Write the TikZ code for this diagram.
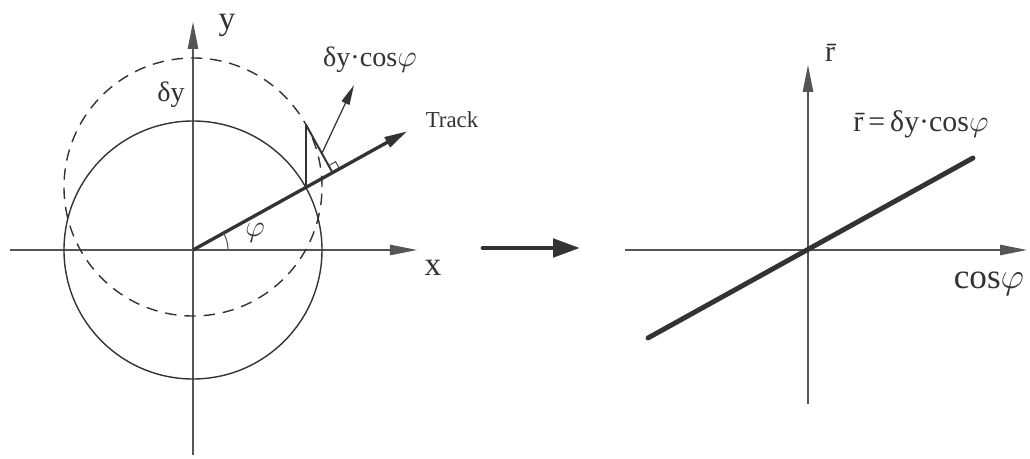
\documentclass[tikz,border=0pt]{standalone}
\usepackage{fontspec}
\setmainfont{Liberation Serif}
\usetikzlibrary{arrows.meta, calc}

\begin{document}
\begin{tikzpicture}[
  axis/.style={draw=axisgray, line width=0.6pt, -{Triangle[length=5.4mm, width=2.1mm]}},
  circ/.style={draw=inkgray, line width=0.8pt},
  track/.style={draw=inkgray, line width=1.9pt, -{Triangle[length=4.6mm, width=2.2mm]}},
  pointer/.style={draw=inkgray, line width=0.7pt, -{Triangle[length=4mm, width=1.7mm]}},
  label/.style={text=inkgray, inner sep=1pt},
]
\definecolor{inkgray}{RGB}{51,51,51}
\definecolor{axisgray}{RGB}{85,85,85}
\useasboundingbox (-3.86,-4.18) rectangle (16.74,5.0);

% ---- LEFT: axes ----
\coordinate (O) at (0,0);
\coordinate (xstart) at (-3.66,0);
\coordinate (xend) at (4.48,0);
\coordinate (ystart) at (0,-4.1);
\coordinate (yend) at (0,4.56);
\draw[axis] (xstart) -- (xend);
\draw[axis] (ystart) -- (yend);
\node[label, font=\fontsize{19}{21}\selectfont] (xlab) at (4.8,-0.36) {x};
\node[label, font=\fontsize{19}{21}\selectfont] (ylab) at (0.68,4.5) {y};

% Circle before and after the shift
\draw[circ] (O) circle (2.58);
\draw[circ, dash pattern=on 6.5pt off 4.5pt] (0,1.26) circle (2.58);
\node[label, font=\fontsize{16}{18}\selectfont] (dylab) at (-0.44,3.1) {δy};

% Track and its angle
\coordinate (tracktip) at (29:4.9);
\draw[track] (O) -- (tracktip);
\draw[draw=axisgray, line width=0.6pt] (0.7,0) arc (0:29:0.7);
\node[label, font=\fontsize{16}{18}\selectfont] (philab) at (1.24,0.34) {$\varphi$};
\node[label, font=\fontsize{13}{15}\selectfont] (tracklab) at (5.18,2.6) {Track};

% Shift and its projection on the track
\coordinate (P) at (29:2.58);
\coordinate (Q) at ($(P)+(0,1.26)$);
\coordinate (F) at ($(P)+(29:0.611)$);
\draw[inkgray, line width=1.5pt] (P) -- (Q);
\draw[inkgray, line width=1.1pt] (Q) -- (F);
\draw[inkgray, line width=0.5pt] ($(F)+(29:0.16)$) -- ($(F)+(29:0.16)+(119:0.16)$) -- ($(F)+(119:0.16)$);
\coordinate (projbase) at ($(Q)!0.6!(F)$);
\coordinate (projtip) at (3.22,3.3);
\draw[pointer] (projbase) -- (projtip);
\node[label, font=\fontsize{16}{18}\selectfont] (projlab) at (3.54,3.8) {δy·cos$\varphi$};

% ---- MAPPING ARROW ----
\coordinate (mapstart) at (5.8,0.04);
\coordinate (mapend) at (7.74,0.04);
\draw[inkgray, line width=2.8pt, line cap=round, -{Triangle[length=5.4mm, width=3.6mm]}] (mapstart) -- (mapend);

% ---- RIGHT: r versus cos phi ----
\coordinate (R) at (12.3,0);
\coordinate (hstart) at (8.64,0);
\coordinate (hend) at (16.68,0);
\coordinate (vstart) at (12.3,-3.08);
\coordinate (vend) at (12.3,3.7);
\draw[axis] (hstart) -- (hend);
\draw[axis] (vstart) -- (vend);
\node[label, font=\fontsize{17}{19}\selectfont] (rlab) at (12.74,3.94) {\=r};
\node[label, font=\fontsize{20}{22}\selectfont] (coslab) at (15.92,-0.68) {cos$\varphi$};

\coordinate (lowend) at (9.1,-1.76);
\coordinate (highend) at (15.6,1.84);
\draw[inkgray, line width=2.8pt, line cap=round] (lowend) -- (highend);
\node[label, font=\fontsize{17}{19}\selectfont] (rellab) at (14.56,2.52) {\=r\,=\,δy·cos$\varphi$};

\end{tikzpicture}
\end{document}
